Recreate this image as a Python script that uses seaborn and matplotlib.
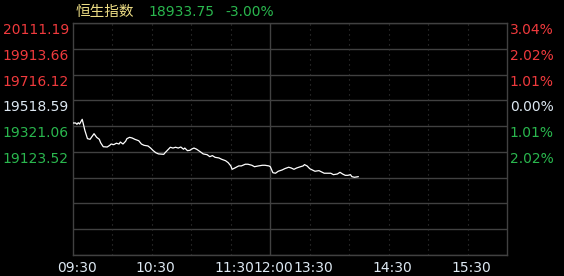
import numpy as np
import pandas as pd
import seaborn as sns
import matplotlib
matplotlib.use("Agg")
import matplotlib.pyplot as plt
from matplotlib.transforms import ScaledTranslation

# ---------------- data ----------------
title_name = "恒生指数"
last_price = "18933.75"
last_change = "-3.00%"
prev_close = 19518.59

times = ["09:30", "09:32", "09:33", "09:34", "09:35", "09:37", "09:38", "09:39", "09:41", "09:43",
         "09:44", "09:46", "09:48", "09:50", "09:51", "09:53", "09:56", "09:58", "09:59", "10:01",
         "10:03", "10:05", "10:06", "10:08", "10:10", "10:11", "10:13", "10:15", "10:17", "10:20",
         "10:22", "10:24", "10:27", "10:29", "10:31", "10:33", "10:35", "10:39", "10:40", "10:42",
         "10:44", "10:46", "10:48", "10:50", "10:52", "10:54", "10:55", "10:57", "10:59", "11:00",
         "11:02", "11:04", "11:07", "11:09", "11:12", "11:14", "11:16", "11:18", "11:21", "11:23",
         "11:26", "11:28", "11:30", "11:31", "11:33", "11:36", "11:38", "11:41", "11:43", "11:46",
         "11:48", "11:51", "11:54", "11:56", "11:59", "12:00",
         "13:02", "13:04", "13:06", "13:09", "13:11", "13:14", "13:16", "13:18", "13:20", "13:23",
         "13:25", "13:26", "13:28", "13:30", "13:32", "13:34", "13:37", "13:39", "13:41", "13:43",
         "13:46", "13:48", "13:51", "13:53", "13:55", "13:57", "13:59", "14:01", "14:02", "14:04",
         "14:07"]
prices = [19345, 19345, 19335, 19347, 19337, 19373, 19332, 19289, 19225, 19220,
          19235, 19263, 19235, 19220, 19194, 19163, 19161, 19174, 19184, 19179,
          19190, 19184, 19199, 19184, 19205, 19225, 19235, 19230, 19220, 19209,
          19184, 19174, 19169, 19153, 19133, 19117, 19108, 19105, 19117, 19138,
          19159, 19153, 19159, 19153, 19161, 19144, 19153, 19133, 19136, 19144,
          19153, 19144, 19123, 19108, 19102, 19087, 19095, 19082, 19077, 19067,
          19056, 19041, 19016, 18990, 19000, 19016, 19016, 19029, 19029, 19021,
          19010, 19016, 19021, 19021, 19016, 19010,
          18964, 18960, 18975, 18985, 18995, 19006, 19000, 18990, 19000, 19010,
          19016, 19026, 19016, 18995, 18985, 18975, 18980, 18970, 18960, 18960,
          18960, 18949, 18954, 18967, 18954, 18944, 18944, 18949, 18934, 18929,
          18933.75]

left_labels = ["20111.19", "19913.66", "19716.12", "19518.59", "19321.06", "19123.52"]
right_labels = ["3.04%", "2.02%", "1.01%", "0.00%", "1.01%", "2.02%"]
x_tick_times = ["09:30", "10:30", "11:30", "12:00", "13:30", "14:30", "15:30"]

# ---------------- helpers ----------------
def trading_minute(hhmm):
    h, m = map(int, hhmm.split(":"))
    tot = h * 60 + m
    if tot <= 12 * 60:
        return tot - (9 * 60 + 30)
    return 150 + tot - 13 * 60

df = pd.DataFrame({"minute": [trading_minute(t) for t in times], "price": prices})

top_val = float(left_labels[0])
step = float(left_labels[0]) - float(left_labels[1])
n_rows = 9
grid_vals = [top_val - k * step for k in range(n_rows + 1)]
bottom_val = grid_vals[-1]

RED = "#f03a3d"
GREEN = "#2ab74e"
WHITE_BLUE = "#dde8f2"
YELLOW = "#ecdc84"
GRID = "#414141"

sns.set_style("dark")
plt.rcParams["font.family"] = ["DejaVu Sans", "Noto Sans CJK SC"]

W, H = 564, 276
fig = plt.figure(figsize=(W / 100, H / 100), dpi=100, facecolor="black")
ax = fig.add_axes([73 / W, 1 - 255 / H, (507 - 73) / W, (255 - 23) / H])
ax.set_facecolor("black")

# grid
for v in grid_vals:
    ax.axhline(v, color=GRID, lw=1.0, zorder=1)
for m in range(30, 330, 30):
    if m == 150:
        ax.axvline(m, color=GRID, lw=1.0, zorder=1)
    else:
        ax.axvline(m, color="#3a3a3a", lw=0.8, ls=(0, (1, 3.5)), zorder=1)

sns.lineplot(data=df, x="minute", y="price", ax=ax, color="white", linewidth=0.9, zorder=3)

ax.set_xlim(0, 330)
ax.set_ylim(bottom_val, top_val)
ax.set_xlabel("")
ax.set_ylabel("")
for s in ax.spines.values():
    s.set_color(GRID)
    s.set_linewidth(1.0)
    s.set_visible(True)
ax.grid(False)

# left ticks
ax.set_yticks(grid_vals[:len(left_labels)])
ax.set_yticklabels(left_labels)
ax.tick_params(axis="y", length=0, pad=3, labelsize=10)
def col_for(i):
    if i < 3:
        return RED
    if i == 3:
        return WHITE_BLUE
    return GREEN
for i, lab in enumerate(ax.get_yticklabels()):
    lab.set_color(col_for(i))
    lab.set_va("top")

# x ticks
ax.set_xticks([trading_minute(t) if t != "12:00" else 150 for t in x_tick_times])
ax.set_xticklabels(x_tick_times)
ax.tick_params(axis="x", length=0, pad=4, labelsize=10, colors=WHITE_BLUE)
off = ScaledTranslation(3.5 / 100, 0, fig.dpi_scale_trans)
for lab in ax.get_xticklabels():
    lab.set_transform(lab.get_transform() + off)

# right axis
ax2 = ax.twinx()
ax2.set_ylim(bottom_val, top_val)
ax2.set_yticks(grid_vals[:len(right_labels)])
ax2.set_yticklabels(right_labels)
ax2.tick_params(axis="y", length=0, pad=2, labelsize=10)
for i, lab in enumerate(ax2.get_yticklabels()):
    lab.set_color(col_for(i))
    lab.set_va("top")
for s in ax2.spines.values():
    s.set_visible(False)
ax2.grid(False)

# title
ty = 1 - 12 / H
fig.text(76 / W, ty, title_name, color=YELLOW, fontsize=10.5,
         family=["Noto Sans CJK SC", "DejaVu Sans"], ha="left", va="center")
fig.text(148 / W, ty, last_price, color=GREEN, fontsize=10, ha="left", va="center")
fig.text(225 / W, ty, last_change, color=GREEN, fontsize=10, ha="left", va="center")

fig.savefig("out.png", dpi=100, facecolor="black")
